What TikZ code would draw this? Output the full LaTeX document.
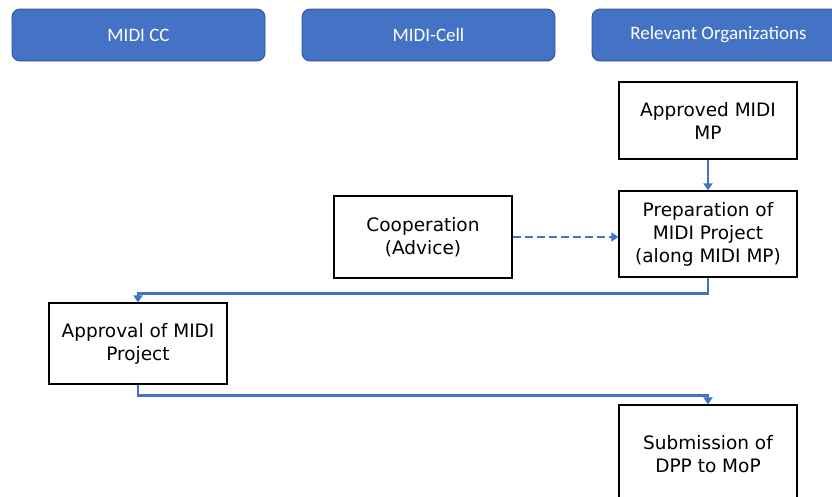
\documentclass[tikz,border=0pt]{standalone}
\usepackage{fontspec}
\setmainfont{DejaVu Sans}
\newfontfamily\headfont{Carlito}
\usetikzlibrary{arrows.meta}
\definecolor{hblue}{HTML}{4472C4}
\definecolor{hedge}{HTML}{2F528F}
\tikzset{
  lane/.style={draw=hedge, line width=0.8pt, fill=hblue, rounded corners=8pt,
    minimum width=253pt, minimum height=52pt, text=white,
    font=\headfont\fontsize{19}{22}\selectfont},
  stepbox/.style={draw=black, line width=1.2pt, fill=white, minimum width=178pt,
    align=center, font=\fontsize{18.5}{23}\selectfont},
  flow/.style={draw=hblue, line width=2.5pt,
    -{Triangle[width=9pt,length=7pt]}},
  advice/.style={flow, dashed, dash pattern=on 8pt off 4pt}
}
\begin{document}
\begin{tikzpicture}[x=1pt,y=-1pt]
\useasboundingbox (0,0) rectangle (832,496);
\clip (0,0) rectangle (832,496);
% column headers
\node[lane] (cc)   at (138.5,35)  {MIDI CC};
\node[lane] (cell) at (428.5,35)  {MIDI-Cell};
\node[lane] (org)  at (718.5,35)  {Relevant Organizations};
% process steps
\node[stepbox, minimum height=77pt] (mp)   at (708,120.5) {Approved MIDI\\MP};
\node[stepbox, minimum height=86pt] (prep) at (708,234)   {Preparation of\\MIDI Project\\(along MIDI MP)};
\node[stepbox, minimum height=82pt] (coop) at (423,237)   {Cooperation\\(Advice)};
\node[stepbox, minimum height=81pt] (appr) at (138,343.5) {Approval of MIDI\\Project};
\node[stepbox, minimum height=98pt] (sub)  at (708,454)   {Submission of\\DPP to MoP};
% connectors
\draw[flow] (mp) -- (prep);
\draw[advice] (coop.east) -- (coop.east -| prep.west);
\draw[flow] (prep.south) -- ++(0,16) -| (appr.north);
\draw[flow] (appr.south) -- ++(0,11) -| (sub.north);
\end{tikzpicture}
\end{document}
